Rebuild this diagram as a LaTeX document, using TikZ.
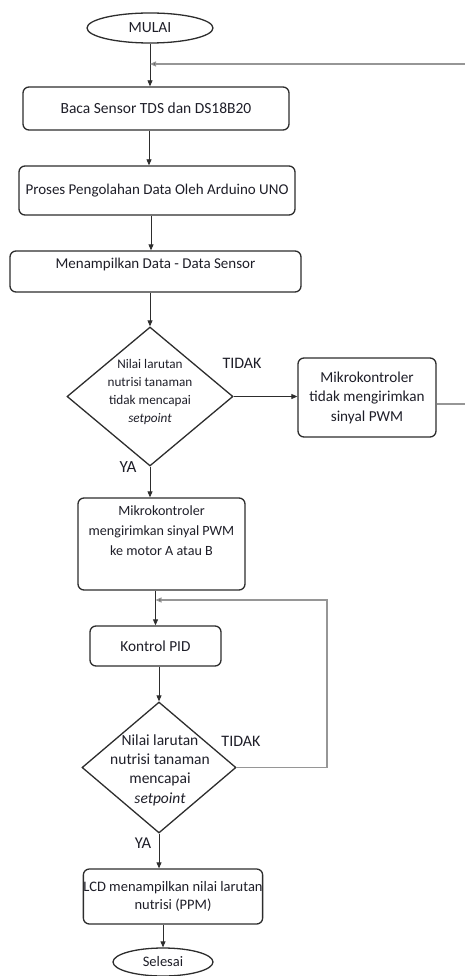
\documentclass[tikz,border=0pt]{standalone}
\usepackage{fontspec}
\setmainfont{Carlito}
\usetikzlibrary{arrows.meta,shapes.geometric}
\definecolor{edge}{RGB}{45,45,45}
\definecolor{loopc}{RGB}{150,150,150}
\definecolor{txt}{RGB}{30,30,40}
\newcommand{\fs}[2]{\fontsize{#1}{#2}\selectfont}
\begin{document}
\begin{tikzpicture}[x=1pt,y=-1pt,
  every node/.style={font=\fs{15.5}{18.5}, text=txt},
  box/.style={draw=edge, line width=1.3pt, rounded corners=6pt, align=center, inner sep=1pt},
  term/.style={draw=edge, ellipse, line width=1.3pt, inner sep=0pt},
  dec/.style={draw=edge, diamond, line width=1.3pt, inner sep=0pt},
  flow/.style={draw=edge, line width=0.8pt, -{Triangle[length=6pt,width=5pt]}},
  backarr/.style={draw=loopc, line width=1.2pt, -{Triangle[length=6pt,width=5pt,fill=edge]}},
  lbl/.style={inner sep=0pt}
]
\useasboundingbox (0,0) rectangle (465,976);

\node[term, minimum width=126pt, minimum height=30pt] (start) at (150,28) {MULAI};
\node[box, minimum width=266pt, minimum height=43pt] (baca) at (156,108.5) {Baca Sensor TDS dan DS18B20};
\node[box, minimum width=276pt, minimum height=49pt, font=\fs{15}{18}] (proses) at (157,190.5) {Proses Pengolahan Data Oleh Arduino UNO};
\node[box, minimum width=291pt, minimum height=41pt, text depth=16pt, font=\fs{15}{18}] (tampil) at (155.5,271.5) {Menampilkan Data - Data Sensor};
\node[dec, minimum width=166pt, minimum height=139pt] (d1) at (150,396.5) {};
\node[lbl, align=center, font=\fs{13.2}{18}] (d1t) at (150,392) {Nilai larutan\\nutrisi tanaman\\tidak mencapai\\\textit{setpoint}};
\node[box, minimum width=138pt, minimum height=79pt, font=\fs{15.2}{19.5}] (b2) at (367,397.5) {Mikrokontroler\\tidak mengirimkan\\sinyal PWM};
\node[box, minimum width=167pt, minimum height=92pt, font=\fs{14.1}{20}] (b3) at (161.5,544) {Mikrokontroler\\mengirimkan sinyal PWM\\ke motor A atau B\\[6pt]};
\node[box, minimum width=131pt, minimum height=40pt, font=\fs{15.3}{18}] (pid) at (155.5,646) {Kontrol PID};
\node[dec, minimum width=154pt, minimum height=131pt] (d2) at (159,767.5) {};
\node[lbl, align=center, font=\fs{15.5}{19.3}] (d2t) at (160,770) {Nilai larutan\\nutrisi tanaman\\mencapai\\\textit{setpoint}};
\node[box, minimum width=172pt, minimum height=55pt, inner sep=0pt, font=\fs{14.5}{18}] (lcd) at (173,896.5) {LCD menampilkan nilai larutan\\nutrisi (PPM)};
\node[term, minimum width=100pt, minimum height=28pt, font=\fs{14.5}{17}] (end) at (163,962) {Selesai};

\node[lbl, font=\fs{16}{18}] (t1) at (242,363) {TIDAK};
\node[lbl, font=\fs{17}{18}] (y1) at (128,467) {YA};
\node[lbl, font=\fs{16}{18}] (t2) at (241,741) {TIDAK};
\node[lbl, font=\fs{16.5}{18}] (y2) at (143,843) {YA};

\coordinate (j1) at (150,64);
\coordinate (r1) at (468,64);
\coordinate (r2) at (468,404);
\coordinate (j2) at (155.5,600);
\coordinate (c2) at (327,600);

\draw[flow] (start.south) -- (start.south |- baca.north);
\draw[flow] ([xshift=-7pt]baca.south) -- ([xshift=-7pt]baca.south |- proses.north);
\draw[flow] ([xshift=-6pt]proses.south) -- ([xshift=-6pt]proses.south |- tampil.north);
\draw[flow] (tampil.south -| d1.north) -- (d1.north);
\draw[flow] (d1.east) -- (d1.east -| b2.west);
\draw[flow] (d1.south) -- (d1.south |- b3.north);
\draw[flow] (b3.south -| pid.north) -- (pid.north);
\draw[flow] (pid.south -| d2.north) -- (d2.north);
\draw[flow] (d2.south) -- (d2.south |- lcd.north);
\draw[flow] (lcd.south -| end.north) -- (end.north);

\draw[backarr] ([yshift=-6.5pt]b2.east) -- ([yshift=-6.5pt]b2.east -| r2) -- (r1) -- (j1);
\draw[backarr] (d2.east) -| (c2) -- (j2);
\end{tikzpicture}
\end{document}
